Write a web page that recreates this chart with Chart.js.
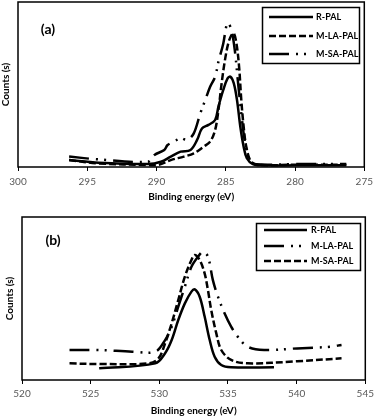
<!DOCTYPE html>
<html><head><meta charset="utf-8">
<script src="https://cdn.jsdelivr.net/npm/chart.js@4"></script>
<style>
html,body{margin:0;padding:0;background:#fff;}
#wrap{position:relative;width:378px;height:417px;overflow:hidden;}
canvas{position:absolute;left:0;}
#ca{top:0;} #cb{top:205px;}
</style></head><body>
<div id="wrap"><canvas id="ca" width="378" height="205"></canvas><canvas id="cb" width="378" height="212"></canvas></div>
<script>
// ---------- data ----------
const seriesNames = ['R-PAL', 'M-LA-PAL', 'M-SA-PAL'];
const xTicksA = [300, 295, 290, 285, 280, 275];
const xTicksB = [520, 525, 530, 535, 540, 545];
const xTitle = 'Binding energy (eV)';
const yTitle = 'Counts (s)';

// Panel (a) C 1s
const energyA_R = [296.31, 294.18, 290.62, 289.68, 288.97, 288.26, 287.55, 287.07, 286.72, 286.25, 285.77, 285.53, 285.18, 284.87, 284.66, 284.42, 284.19, 283.95, 283.71, 283.48, 283.05, 282.34, 279.97, 276.30];
const countsA_R = [4.2, 2.6, 1.8, 3.2, 6.3, 9.3, 10.3, 16.4, 23.4, 25.5, 28.5, 36.6, 46.7, 53.7, 54.7, 50.7, 40.6, 24.4, 12.3, 5.3, 1.8, 1.0, 1.0, 1.0];
const energyA_LA = [296.31, 294.18, 290.62, 289.91, 288.97, 288.02, 287.31, 286.60, 286.13, 285.77, 285.53, 285.30, 285.06, 284.82, 284.59, 284.42, 284.23, 284.04, 283.88, 283.71, 283.52, 283.17, 282.58, 279.97, 276.30];
const countsA_LA = [4.2, 2.2, 1.2, 1.2, 4.2, 6.3, 8.3, 12.3, 15.4, 22.4, 34.5, 50.7, 64.8, 74.9, 80.0, 81.0, 74.9, 60.8, 40.6, 24.4, 12.3, 3.2, 1.2, 1.4, 1.4];
const energyA_SA = [296.31, 294.18, 290.62, 290.15, 289.44, 289.20, 288.73, 288.26, 287.78, 287.31, 286.84, 286.48, 286.13, 285.77, 285.53, 285.18, 284.94, 284.82, 284.59, 284.35, 284.11, 283.88, 283.64, 283.29, 282.81, 279.97, 276.30];
const countsA_SA = [6.3, 4.6, 3.2, 7.3, 10.3, 13.3, 15.4, 17.4, 16.4, 20.4, 32.5, 40.6, 48.7, 54.7, 63.8, 74.9, 86.1, 87.1, 83.0, 70.9, 50.7, 32.5, 16.4, 4.2, 1.6, 1.8, 1.8];

// Panel (b) O 1s
const energyB_R = [525.62, 529.70, 530.42, 530.90, 531.38, 531.86, 532.34, 532.58, 532.94, 533.30, 533.67, 534.03, 534.51, 535.23, 538.35];
const countsB_R = [7.2, 10.2, 16.4, 24.5, 36.8, 47.0, 54.2, 55.6, 51.1, 38.9, 24.5, 14.3, 9.2, 7.8, 7.8];
const energyB_LA = [523.46, 525.62, 528.02, 529.70, 530.42, 530.90, 531.38, 531.86, 532.34, 532.82, 533.18, 533.54, 533.90, 534.27, 534.75, 535.23, 535.71, 536.43, 537.63, 540.03, 542.43, 543.27];
const countsB_LA = [18.4, 18.4, 17.4, 17.4, 24.5, 32.7, 45.0, 57.3, 69.5, 75.7, 78.7, 75.7, 61.3, 51.1, 40.9, 32.7, 26.6, 20.4, 18.4, 19.4, 20.4, 21.5];
const energyB_SA = [523.46, 525.62, 529.22, 529.94, 530.42, 530.90, 531.38, 531.86, 532.34, 532.58, 532.94, 533.30, 533.54, 533.78, 534.15, 534.51, 535.23, 536.43, 540.03, 543.27];
const countsB_SA = [10.2, 9.8, 10.2, 13.3, 22.5, 34.8, 49.1, 63.4, 73.6, 76.7, 73.6, 65.4, 55.2, 42.9, 28.6, 18.4, 12.3, 10.2, 11.5, 13.3];

// ---------- styles ----------
const SOLID = [];
const DASHED = [7, 3];
const DASHDOT = [20, 7, 2, 6, 2, 7];

Chart.defaults.font.family = 'Lato, "Open Sans", "Liberation Sans", sans-serif';
Chart.defaults.animation = false;

function pts(xs, ys) { return xs.map((x, i) => ({x: x, y: ys[i]})); }
function ds(label, xs, ys, dash) {
  return {label: label, data: pts(xs, ys), showLine: true, borderColor: '#000', borderWidth: 2.5,
    borderDash: dash, pointRadius: 0, tension: 0.35, fill: false};
}

function decoPlugin(cfg) {
  return {
    id: 'deco',
    afterDraw(chart) {
      const ctx = chart.ctx, a = chart.chartArea;
      ctx.save();
      ctx.strokeStyle = '#000'; ctx.lineWidth = 1.5; ctx.setLineDash([]);
      ctx.strokeRect(a.left, a.top, a.right - a.left, a.bottom - a.top);
      // panel label
      ctx.fillStyle = '#000';
      ctx.font = 'bold 14px Lato, "Open Sans", sans-serif';
      ctx.textAlign = 'center'; ctx.textBaseline = 'middle';
      ctx.fillText(cfg.label, cfg.labelX, cfg.labelY);
      // legend
      const L = cfg.legend;
      ctx.lineWidth = 1.5;
      ctx.strokeRect(L.x, L.y, L.w, L.h);
      ctx.font = 'bold 9px Lato, "Open Sans", sans-serif';
      ctx.textAlign = 'left';
      chart.data.datasets.forEach((d, i) => {
        const y = L.rows[i];
        ctx.beginPath();
        ctx.lineWidth = 2.5;
        ctx.setLineDash(d.borderDash);
        ctx.moveTo(L.lx0, y); ctx.lineTo(L.lx1, y);
        ctx.stroke();
        ctx.setLineDash([]);
        ctx.fillText(d.label, L.tx, y);
      });
      ctx.restore();
    }
  };
}

function makeChart(id, datasets, min, max, reverse, ticksArr, lay) {
  return new Chart(document.getElementById(id), {
    type: 'scatter',
    data: {datasets: datasets},
    options: {
      responsive: false, devicePixelRatio: 1,
      layout: {padding: {top: lay.top, right: lay.right, bottom: 0, left: 0}},
      plugins: {legend: {display: false}, tooltip: {enabled: false}},
      scales: {
        x: {type: 'linear', min: min, max: max, reverse: reverse,
          afterBuildTicks(scale) { scale.ticks = ticksArr.map(v => ({value: v})); },
          ticks: {color: '#595959', font: {size: 10}, padding: lay.tickPad, maxRotation: 0, autoSkip: false},
          grid: {display: true, drawOnChartArea: false, drawTicks: true, tickLength: 4, color: '#000', lineWidth: 1},
          border: {display: false},
          title: {display: true, text: xTitle, color: '#000', font: {size: 10, weight: 'bold'}, padding: {top: 0, bottom: lay.titlePad}},
          afterFit(scale) { scale.height = lay.xh; }
        },
        y: {min: 0, max: 100,
          ticks: {display: false}, grid: {display: false}, border: {display: false},
          title: {display: true, text: yTitle, color: '#000', font: {size: 10, weight: 'bold'}, padding: {top: lay.yTitlePad, bottom: 0}},
          afterFit(scale) { scale.width = lay.yw; }
        }
      }
    },
    plugins: [decoPlugin(lay.deco)]
  });
}

makeChart('ca', [
  ds(seriesNames[0], energyA_R, countsA_R, SOLID),
  ds(seriesNames[1], energyA_LA, countsA_LA, DASHED),
  ds(seriesNames[2], energyA_SA, countsA_SA, DASHDOT)
], 275, 300, true, xTicksA, {
  top: 2, right: 8, yw: 18, xh: 38, tickPad: 5, titlePad: 2, yTitlePad: 0,
  deco: {label: '(a)', labelX: 48, labelY: 29,
    legend: {x: 262.5, y: 7.5, w: 97, h: 56, rows: [17, 36, 54], lx0: 269, lx1: 313, tx: 316}}
});

makeChart('cb', [
  ds(seriesNames[0], energyB_R, countsB_R, SOLID),
  ds(seriesNames[1], energyB_LA, countsB_LA, DASHDOT),
  ds(seriesNames[2], energyB_SA, countsB_SA, DASHED)
], 520, 545, false, xTicksB, {
  top: 12, right: 9, yw: 22, xh: 37, tickPad: 4, titlePad: 0, yTitlePad: 4,
  deco: {label: '(b)', labelX: 53, labelY: 35,
    legend: {x: 256.5, y: 18.5, w: 104, h: 47, rows: [25, 41, 56], lx0: 264, lx1: 307, tx: 311}}
});
</script>
</body></html>
